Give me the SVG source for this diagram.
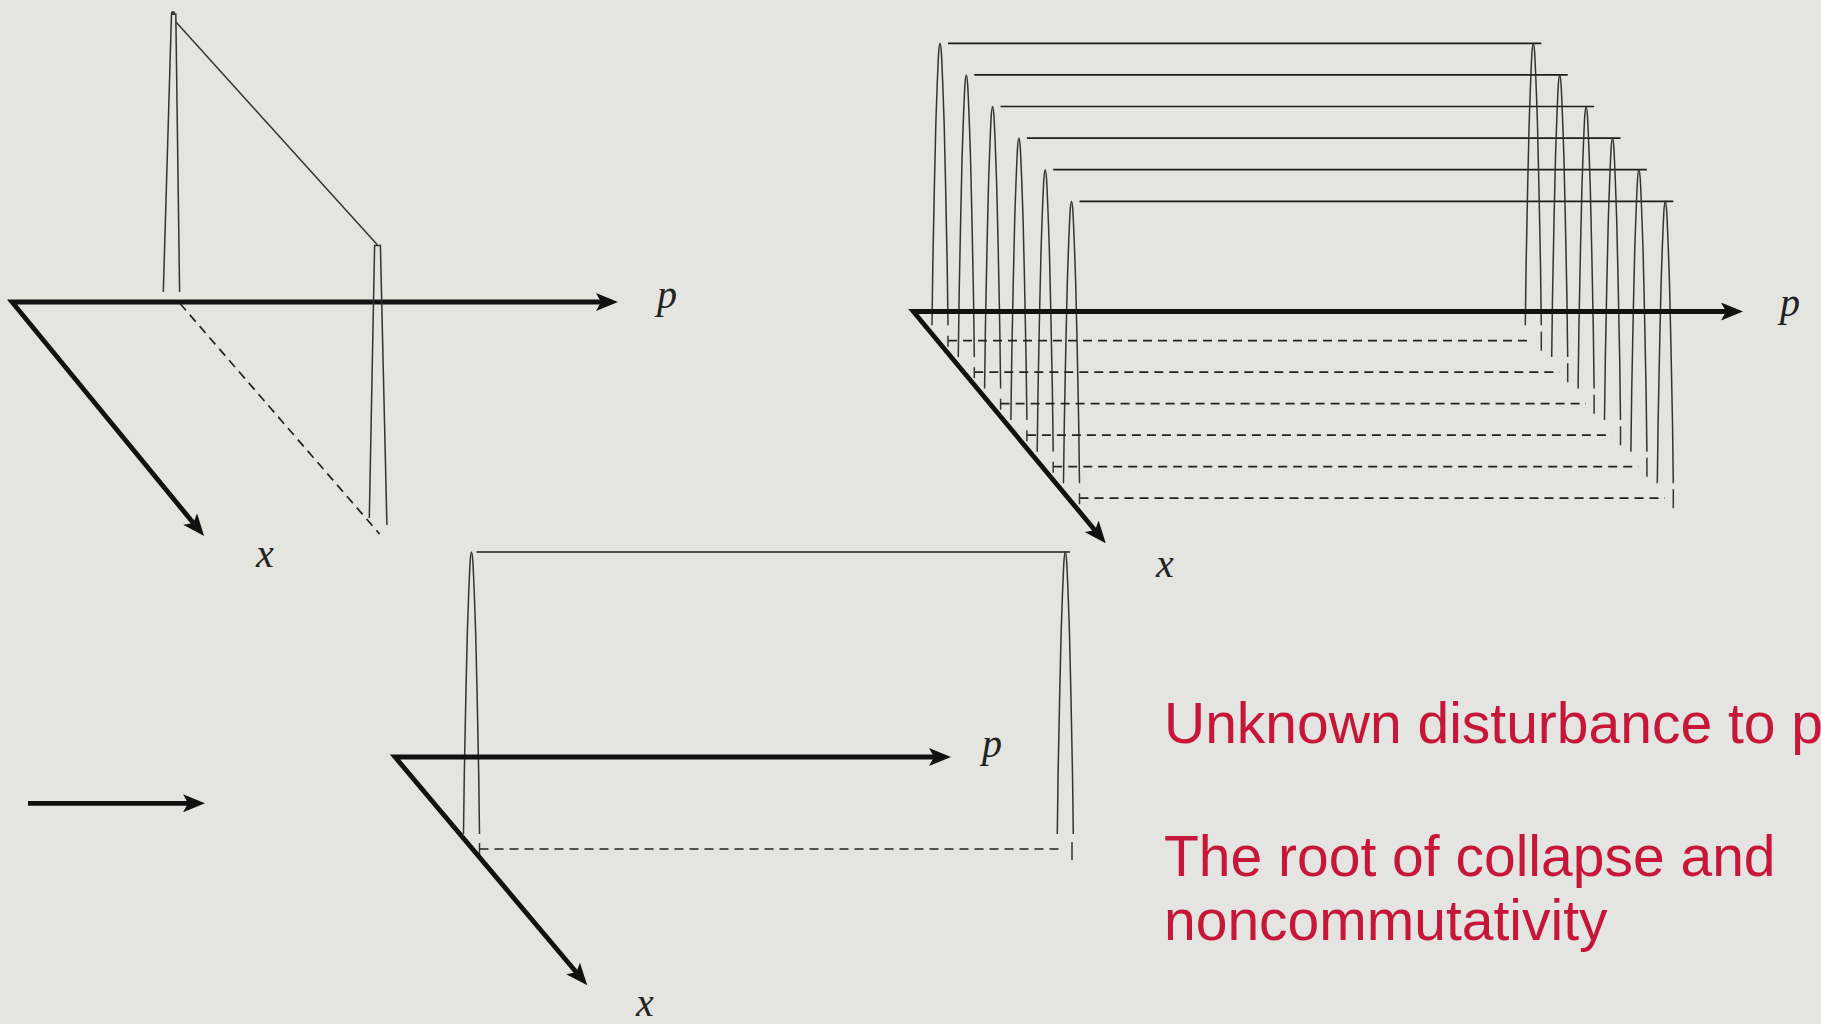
<svg xmlns="http://www.w3.org/2000/svg" xmlns:xlink="http://www.w3.org/1999/xlink" width="1821" height="1024" viewBox="0 0 1821 1024">
<defs>
<style>
.axis{fill:none;stroke:#111;stroke-width:4.8;stroke-linejoin:miter;marker-start:url(#arr);marker-end:url(#arr)}
.single{fill:none;stroke:#111;stroke-width:4.8;marker-end:url(#arr)}
.pk{fill:none;stroke:#333;stroke-width:1.5}
.top{fill:none;stroke:#1c1c1c;stroke-width:1.7}
.dash{fill:none;stroke:#222;stroke-width:1.7;stroke-dasharray:9 6}
.tick{fill:none;stroke:#333;stroke-width:1.5}
.lbl{font-family:"Liberation Serif","DejaVu Serif",serif;font-style:italic;font-size:40px;fill:#222;text-anchor:middle}
.red{font-family:"Liberation Sans",Arial,sans-serif;font-size:57px;fill:#c6163a}
</style>
<marker id="arr" markerUnits="userSpaceOnUse" viewBox="0 0 22 18" markerWidth="22" markerHeight="18" refX="5" refY="9" orient="auto-start-reverse">
<path d="M0,0 L22,9 L0,18 L5,9 z" fill="#111"/>
</marker>
<path id="peak" class="pk" d="M-8,0 L-7.2,-60 L-5.6,-140 L-4.2,-200 C-3.3,-228 -2.3,-255 -1.4,-272 Q0,-292 1.4,-272 C2.3,-255 3.3,-228 4.2,-200 L5.6,-140 L7.2,-60 L8,0"/>
</defs>
<rect x="0" y="0" width="1821" height="1024" fill="#e4e4e0"/>

<!-- Top-left diagram -->
<g id="top-left">
<path class="axis" d="M601,302 L12,302 L193.3,522.9"/>
<path class="pk" d="M163.3,292 L171.5,14 L175.8,14 L179.6,292"/>
<circle cx="173" cy="13" r="2" fill="#333"/>
<line class="pk" x1="176" y1="22" x2="377.5" y2="245"/>
<path class="pk" d="M369.3,518 L374.6,245.5 L380.4,245.5 L386.9,525"/>
<line class="dash" x1="180" y1="303.5" x2="379.6" y2="534"/>
<text class="lbl" x="667" y="308">p</text>
<text class="lbl" x="265" y="567">x</text>
</g>

<!-- Top-right diagram -->
<g id="top-right">
<g id="tr-lines">
<line class="top" x1="948" y1="43.3" x2="1541.3" y2="43.3"/>
<line class="top" x1="974.3" y1="74.9" x2="1567.7" y2="74.9"/>
<line class="top" x1="1000.6" y1="106.5" x2="1594.1" y2="106.5"/>
<line class="top" x1="1026.9" y1="138.1" x2="1620.5" y2="138.1"/>
<line class="top" x1="1053.2" y1="169.7" x2="1646.9" y2="169.7"/>
<line class="top" x1="1079.5" y1="201.3" x2="1673.3" y2="201.3"/>
</g>
<g id="tr-peaks">
<use xlink:href="#peak" href="#peak" x="940" y="325.3"/>
<use xlink:href="#peak" href="#peak" x="966.3" y="356.9"/>
<use xlink:href="#peak" href="#peak" x="992.6" y="388.5"/>
<use xlink:href="#peak" href="#peak" x="1018.9" y="420.1"/>
<use xlink:href="#peak" href="#peak" x="1045.2" y="451.7"/>
<use xlink:href="#peak" href="#peak" x="1071.5" y="483.3"/>
<use xlink:href="#peak" href="#peak" x="1533.3" y="325.3"/>
<use xlink:href="#peak" href="#peak" x="1559.7" y="356.9"/>
<use xlink:href="#peak" href="#peak" x="1586.1" y="388.5"/>
<use xlink:href="#peak" href="#peak" x="1612.5" y="420.1"/>
<use xlink:href="#peak" href="#peak" x="1638.9" y="451.7"/>
<use xlink:href="#peak" href="#peak" x="1665.3" y="483.3"/>
</g>
<g id="tr-dashes">
<line class="dash" x1="948" y1="340.7" x2="1533" y2="340.7"/>
<line class="dash" x1="974.3" y1="372.2" x2="1559.5" y2="372.2"/>
<line class="dash" x1="1000.6" y1="403.7" x2="1586" y2="403.7"/>
<line class="dash" x1="1026.9" y1="435.2" x2="1612" y2="435.2"/>
<line class="dash" x1="1053.2" y1="466.7" x2="1638.5" y2="466.7"/>
<line class="dash" x1="1079.5" y1="498.2" x2="1665" y2="498.2"/>
</g>
<g id="tr-ticks">
<line class="tick" x1="948" y1="335.7" x2="948" y2="346.7"/>
<line class="tick" x1="974.3" y1="367.2" x2="974.3" y2="378.2"/>
<line class="tick" x1="1000.6" y1="398.7" x2="1000.6" y2="409.7"/>
<line class="tick" x1="1026.9" y1="430.2" x2="1026.9" y2="441.2"/>
<line class="tick" x1="1053.2" y1="461.7" x2="1053.2" y2="472.7"/>
<line class="tick" x1="1079.5" y1="493.2" x2="1079.5" y2="504.2"/>
<line class="tick" x1="1541.3" y1="331.7" x2="1541.3" y2="350.7"/>
<line class="tick" x1="1567.7" y1="363.2" x2="1567.7" y2="382.2"/>
<line class="tick" x1="1594.1" y1="394.7" x2="1594.1" y2="413.7"/>
<line class="tick" x1="1620.5" y1="426.2" x2="1620.5" y2="445.2"/>
<line class="tick" x1="1646.9" y1="457.7" x2="1646.9" y2="476.7"/>
<line class="tick" x1="1673.3" y1="489.2" x2="1673.3" y2="508.2"/>
</g>
<path class="axis" d="M1726,311.5 L913.3,311.5 L1094.9,530.2"/>
<text class="lbl" x="1790" y="316">p</text>
<text class="lbl" x="1165" y="577">x</text>
</g>

<!-- Transition arrow -->
<g id="arrow-between">
<line class="single" x1="28" y1="803.3" x2="188" y2="803.3"/>
</g>

<!-- Bottom diagram -->
<g id="bottom">
<line class="top" x1="476.5" y1="552" x2="1070" y2="552"/>
<use xlink:href="#peak" href="#peak" x="471.5" y="834"/>
<use xlink:href="#peak" href="#peak" x="1065.3" y="834"/>
<line class="dash" x1="479.5" y1="849" x2="1062" y2="849"/>
<line class="tick" x1="479.5" y1="843" x2="479.5" y2="857"/>
<line class="tick" x1="1072" y1="842" x2="1072" y2="860"/>
<path class="axis" d="M934,757 L395,757 L576.3,972.3"/>
<text class="lbl" x="992" y="757">p</text>
<text class="lbl" x="645" y="1016">x</text>
</g>

<!-- Red notes -->
<g id="notes">
<text class="red" x="1164" y="743">Unknown disturbance to p</text>
<text class="red" x="1164" y="876">The root of collapse and</text>
<text class="red" x="1164" y="940">noncommutativity</text>
</g>
</svg>
